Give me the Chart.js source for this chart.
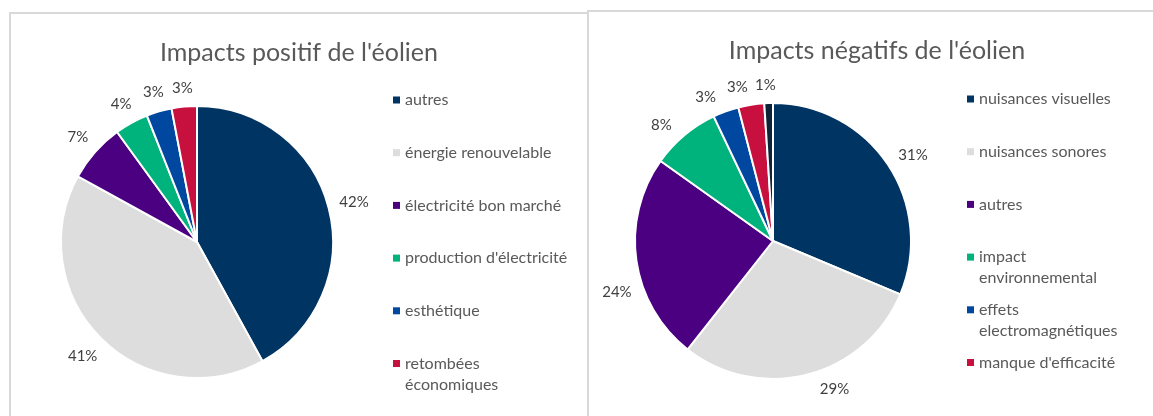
<!DOCTYPE html>
<html lang="fr">
<head>
<meta charset="utf-8">
<title>Impacts de l'éolien</title>
<script src="https://cdn.jsdelivr.net/npm/chart.js@4.4.0/dist/chart.umd.min.js"></script>
<style>
  body { margin: 0; background: #fff; width: 1153px; height: 416px; overflow: hidden; position: relative; }
  .panel { position: absolute; border: 2px solid #d9d9d9; box-sizing: border-box; background: #fff; }
  #p1 { left: 9px; top: 12px; width: 580px; height: 420px; }
  #p2 { left: 587px; top: 10px; width: 580px; height: 420px; }
  .wrap { position: absolute; left: 0; top: 0; width: 576px; }
  #p1 .wrap { height: 402px; }
  #p2 .wrap { height: 404px; }
</style>
</head>
<body>
<div class="panel" id="p1"><div class="wrap"><canvas id="posChart"></canvas></div></div>
<div class="panel" id="p2"><div class="wrap"><canvas id="negChart"></canvas></div></div>
<script>
// data (percent)
const posLabels = ["autres", "énergie renouvelable", "électricité bon marché", "production d'électricité", "esthétique", ["retombées", "économiques"]];
const posValues = [42, 41, 7, 4, 3, 3];
const posColors = ["#003462", "#dddddd", "#4b0082", "#00b27b", "#0047a0", "#c8103e"];

const negLabels = ["nuisances visuelles", "nuisances sonores", "autres", ["impact", "environnemental"], ["effets", "electromagnétiques"], "manque d'efficacité", "non renseigné"];
const negValues = [31, 29, 24, 8, 3, 3, 1];
const negColors = ["#003462", "#dddddd", "#4b0082", "#00b27b", "#0047a0", "#c8103e", "#0e2238"];

const FONT = "Lato, 'Open Sans', sans-serif";
const TEXT = "#595959";

// percent labels outside each slice
const outsideLabels = {
  id: "outsideLabels",
  afterDatasetsDraw(chart, args, opts) {
    const ctx = chart.ctx;
    const meta = chart.getDatasetMeta(0);
    const data = chart.data.datasets[0].data;
    ctx.save();
    ctx.font = opts.size + "px " + FONT;
    ctx.fillStyle = "#404040";
    ctx.textAlign = "center";
    ctx.textBaseline = "middle";
    meta.data.forEach((arc, i) => {
      const p = arc.getProps(["x", "y", "startAngle", "endAngle", "outerRadius"], true);
      const shift = ((opts.shift || [])[i] || 0) * Math.PI / 180;
      const mid = (p.startAngle + p.endAngle) / 2 + shift;
      const text = data[i] + "%";
      const w = ctx.measureText(text).width;
      const dx = Math.cos(mid), dy = Math.sin(mid);
      const d = p.outerRadius + opts.gap + Math.abs(dx) * w / 2 + Math.abs(dy) * opts.size / 2;
      ctx.fillText(text, p.x + dx * d, p.y + dy * d);
    });
    ctx.restore();
  }
};

// legend kept in a layout box on the right, so the title still spans the whole panel
function sideLegend(boxWidth, top) {
  return {
    id: "sideLegend",
    beforeInit(chart) {
      const labels = chart.data.labels;
      const colors = chart.data.datasets[0].backgroundColor;
      const box = {
        position: "right", weight: 0, fullSize: false, options: {},
        left: 0, top: 0, right: 0, bottom: 0, width: 0, height: 0,
        isHorizontal() { return false; },
        update(maxWidth, maxHeight) { this.width = boxWidth; this.height = maxHeight; },
        draw() {
          const ctx = chart.ctx;
          ctx.save();
          ctx.font = "16px " + FONT;
          ctx.textBaseline = "middle";
          let y = top;
          labels.forEach((lab, i) => {
            if (y + 26 > this.bottom) return; // no room left, like Excel
            const lines = Array.isArray(lab) ? lab : [lab];
            ctx.fillStyle = colors[i];
            ctx.fillRect(this.left + 10, y - 3.5, 7, 7);
            ctx.fillStyle = TEXT;
            lines.forEach((t, k) => ctx.fillText(t, this.left + 22, y + k * 21));
            y += 52.7;
          });
          ctx.restore();
        }
      };
      Chart.layouts.addBox(chart, box);
    }
  };
}

function makePie(el, title, labels, values, colors, o) {
  return new Chart(document.getElementById(el), {
    type: "pie",
    data: {
      labels: labels,
      datasets: [{
        data: values,
        backgroundColor: colors,
        borderColor: "#ffffff",
        borderWidth: 2,
        radius: o.radius,
      }],
    },
    options: {
      responsive: true,
      maintainAspectRatio: false,
      animation: false,
      layout: { padding: { top: o.padTop, bottom: 0, left: 0, right: 0 } },
      plugins: {
        legend: { display: false },
        tooltip: { enabled: false },
        title: {
          display: true,
          text: title,
          color: TEXT,
          font: { family: FONT, size: 25, weight: "normal" },
          padding: { top: o.titleTop, bottom: 0 },
        },
        outsideLabels: { size: 15, gap: 10, shift: o.shift },
      },
    },
    plugins: [outsideLabels, sideLegend(o.legendWidth, o.legendTop)],
  });
}

makePie("posChart", "Impacts positif de l'éolien", posLabels, posValues, posColors,
  { radius: 136, padTop: 5, titleTop: 19, legendWidth: 204, legendTop: 86 });

makePie("negChart", "Impacts négatifs de l'éolien", negLabels, negValues, negColors,
  { radius: 138, padTop: 6, titleTop: 18, legendWidth: 208, legendTop: 87,
    shift: [2, -8, -10, -4, -5, -4, -1] });
</script>
</body>
</html>
